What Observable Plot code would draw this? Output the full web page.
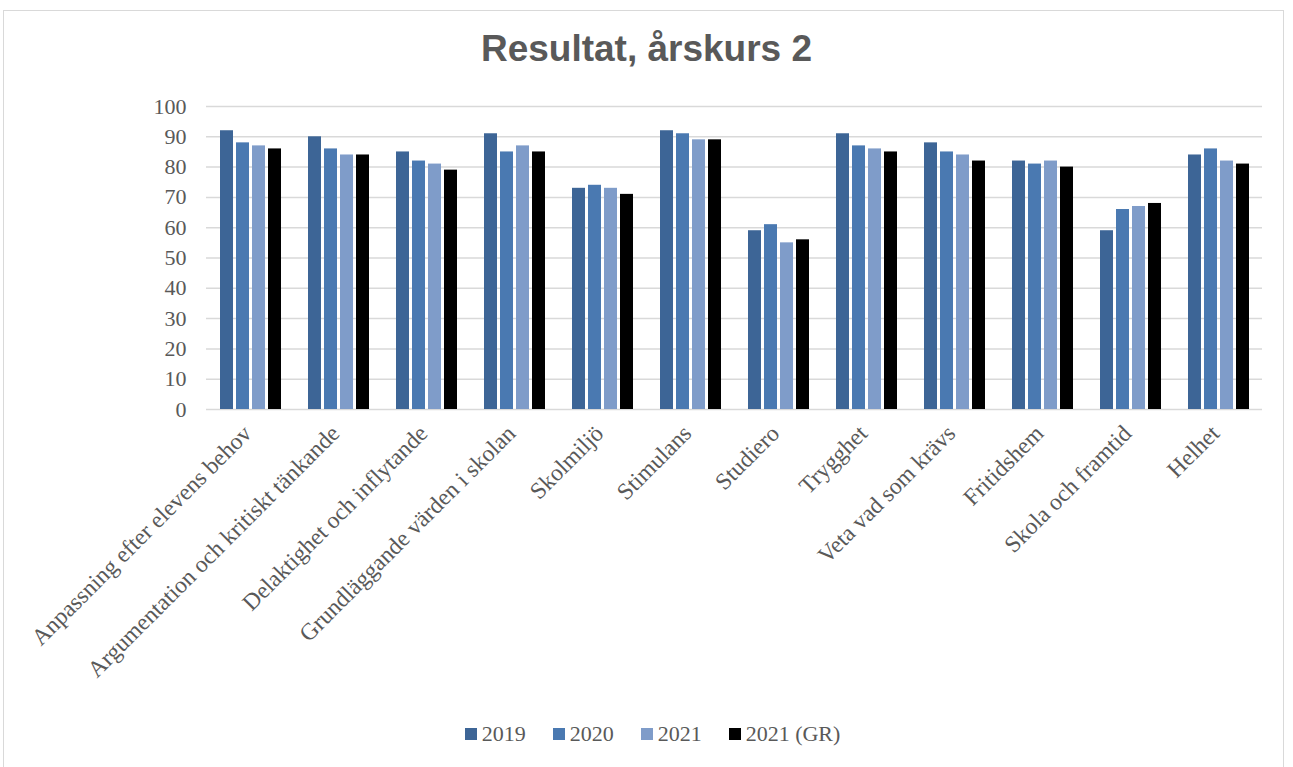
<!DOCTYPE html>
<html>
<head>
<meta charset="utf-8">
<script src="https://cdn.jsdelivr.net/npm/d3@7"></script>
<script src="https://cdn.jsdelivr.net/npm/@observablehq/plot@0.6"></script>
<style>
  body { margin: 0; background: #fff; }
  #wrap { position: relative; width: 1293px; height: 767px; overflow: hidden; }
  #frame { position: absolute; left: 3px; top: 10px; width: 1281px; height: 780px; border: 1px solid #d9d9d9; box-sizing: border-box; }
  #title { position: absolute; left: 0; width: 1293px; top: 27px; text-align: center; line-height: 44px;
    font-family: "Liberation Sans", Arial, sans-serif; font-weight: bold; font-size: 37px; color: #595959; }
  #chart { position: absolute; left: 0; top: 80px; }
  #legend { position: absolute; left: 0; width: 1293px; top: 721px; display: flex; justify-content: center; gap: 27px;
    font-family: "Liberation Serif", "Times New Roman", serif; font-size: 22px; color: #595959; padding-left: 12px; box-sizing: border-box; }
  #legend .item { display: flex; align-items: center; }
  #legend .sw { width: 12px; height: 12px; margin-right: 5px; }
</style>
</head>
<body>
<div id="wrap">
  <div id="frame"></div>
  <div id="title">Resultat, årskurs 2</div>
  <div id="chart"></div>
  <div id="legend"></div>
</div>
<script>
const categories = [
  "Anpassning efter elevens behov",
  "Argumentation och kritiskt tänkande",
  "Delaktighet och inflytande",
  "Grundläggande värden i skolan",
  "Skolmiljö",
  "Stimulans",
  "Studiero",
  "Trygghet",
  "Veta vad som krävs",
  "Fritidshem",
  "Skola och framtid",
  "Helhet"
];
const series = ["2019", "2020", "2021", "2021 (GR)"];
const values2019 = [92, 90, 85, 91, 73, 92, 59, 91, 88, 82, 59, 84];
const values2020 = [88, 86, 82, 85, 74, 91, 61, 87, 85, 81, 66, 86];
const values2021 = [87, 84, 81, 87, 73, 89, 55, 86, 84, 82, 67, 82];
const values2021GR = [86, 84, 79, 85, 71, 89, 56, 85, 82, 80, 68, 81];
const yTicks = [0, 10, 20, 30, 40, 50, 60, 70, 80, 90, 100];
const colors = ["#3D6596", "#4A79B1", "#7F9CC9", "#000000"];

const seriesValues = [values2019, values2020, values2021, values2021GR];
const data = categories.flatMap((c, i) =>
  series.map((s, j) => ({category: c, series: s, value: seriesValues[j][i]}))
);

const chart = Plot.plot({
  width: 1293,
  height: 620,
  marginLeft: 205,
  marginRight: 31,
  marginTop: 26,
  marginBottom: 291,
  style: {fontFamily: "'Liberation Serif', 'Times New Roman', serif", fontSize: "22px", color: "#595959", background: "transparent", overflow: "visible"},
  fx: {domain: categories, padding: 0, label: null},
  x: {domain: series, paddingInner: 0.2, paddingOuter: 0.75, axis: null},
  y: {domain: [0, 100], label: null},
  color: {domain: series, range: colors},
  marks: [
    Plot.gridY(yTicks, {stroke: "#d9d9d9", strokeOpacity: 1, strokeWidth: 1.5}),
    Plot.axisY(yTicks, {tickSize: 0, tickPadding: 20, label: null, fontSize: 22}),
    Plot.axisFx({anchor: "bottom", tickRotate: -45, tickSize: 0, tickPadding: 14, dx: -3, dy: 6, label: null, fontSize: 23.5}),
    Plot.barY(data, {fx: "category", x: "series", y: "value", fill: "series"})
  ]
});
document.getElementById("chart").appendChild(chart);

const legend = document.getElementById("legend");
series.forEach((s, i) => {
  const item = document.createElement("div");
  item.className = "item";
  const sw = document.createElement("div");
  sw.className = "sw";
  sw.style.background = colors[i];
  const t = document.createElement("span");
  t.textContent = s;
  item.appendChild(sw);
  item.appendChild(t);
  legend.appendChild(item);
});
</script>
</body>
</html>
